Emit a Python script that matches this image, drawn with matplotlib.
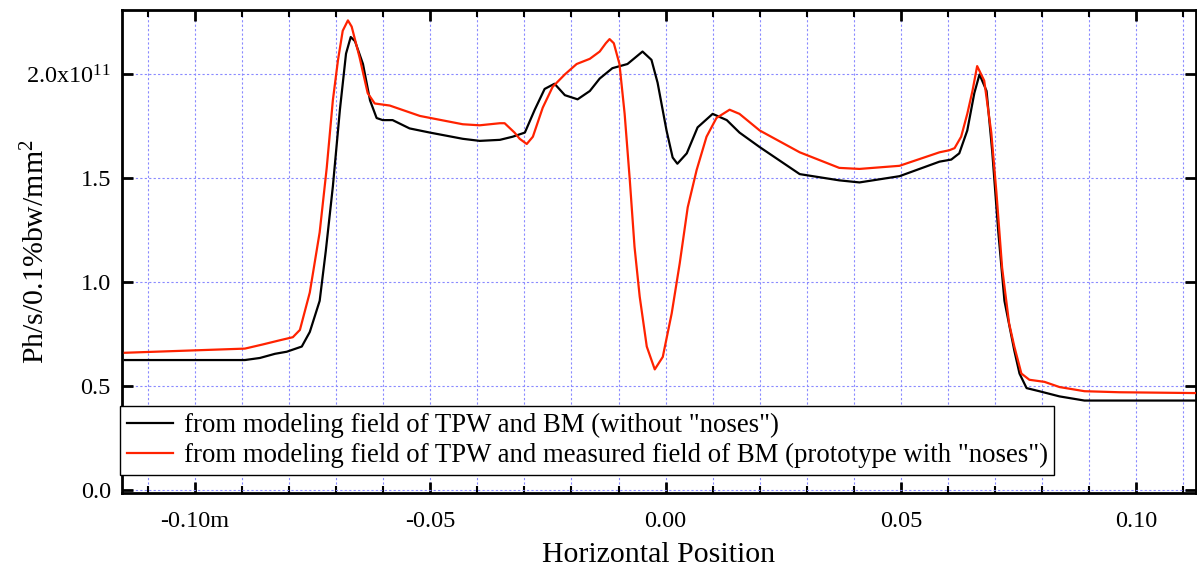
import matplotlib
matplotlib.use("Agg")
import matplotlib.pyplot as plt
from matplotlib.ticker import FixedLocator, FixedFormatter, MultipleLocator

plt.rcParams['font.family'] = ['Liberation Serif', 'DejaVu Serif']
plt.rcParams['mathtext.fontset'] = 'custom'
plt.rcParams['mathtext.rm'] = 'Liberation Serif'
plt.rcParams['mathtext.it'] = 'Liberation Serif:italic'

# Horizontal position (m) and flux (units of 1e11 Ph/s/0.1%bw/mm^2)
x_black = [-0.1149, -0.0894, -0.0862, -0.0830, -0.0805, -0.0773, -0.0756, -0.0735, -0.0722, -0.0707,
           -0.0692, -0.0679, -0.0669, -0.0660, -0.0643, -0.0628, -0.0614, -0.0601, -0.0580, -0.0544,
           -0.0501, -0.0431, -0.0395, -0.0352, -0.0325, -0.0299, -0.0278, -0.0257, -0.0236, -0.0214,
           -0.0187, -0.0161, -0.0140, -0.0113, -0.0081, -0.0049, -0.0030, -0.0017, 0.0002, 0.0015,
           0.0025, 0.0045, 0.0068, 0.0100, 0.0130, 0.0157, 0.0200, 0.0285, 0.0369, 0.0412,
           0.0497, 0.0582, 0.0607, 0.0624, 0.0641, 0.0656, 0.0667, 0.0682, 0.0694, 0.0707,
           0.0720, 0.0741, 0.0752, 0.0767, 0.0794, 0.0837, 0.0890, 0.1127]
y_black = [0.625, 0.625, 0.635, 0.655, 0.665, 0.69, 0.76, 0.91, 1.15, 1.46,
           1.83, 2.10, 2.18, 2.16, 2.05, 1.875, 1.79, 1.78, 1.78, 1.74,
           1.72, 1.69, 1.68, 1.685, 1.70, 1.72, 1.83, 1.93, 1.955, 1.90,
           1.88, 1.92, 1.98, 2.03, 2.05, 2.11, 2.07, 1.96, 1.73, 1.60,
           1.57, 1.62, 1.745, 1.81, 1.78, 1.72, 1.65, 1.52, 1.49, 1.48,
           1.51, 1.58, 1.59, 1.62, 1.73, 1.91, 2.00, 1.92, 1.63, 1.24,
           0.91, 0.67, 0.56, 0.49, 0.475, 0.45, 0.43, 0.43]

x_red = [-0.1149, -0.0894, -0.0856, -0.0820, -0.0792, -0.0777, -0.0756, -0.0735, -0.0720, -0.0707,
         -0.0696, -0.0686, -0.0675, -0.0667, -0.0650, -0.0633, -0.0618, -0.0586, -0.0522, -0.0431,
         -0.0395, -0.0352, -0.0342, -0.0321, -0.0310, -0.0295, -0.0282, -0.0261, -0.0240, -0.0214,
         -0.0189, -0.0161, -0.0140, -0.0127, -0.0119, -0.0110, -0.0098, -0.0087, -0.0076, -0.0066,
         -0.0055, -0.0040, -0.0023, -0.0006, 0.0013, 0.0030, 0.0047, 0.0066, 0.0087, 0.0108,
         0.0136, 0.0157, 0.0200, 0.0285, 0.0369, 0.0412, 0.0497, 0.0582, 0.0603, 0.0614,
         0.0628, 0.0641, 0.0652, 0.0662, 0.0677, 0.0692, 0.0703, 0.0715, 0.0730, 0.0741,
         0.0756, 0.0773, 0.0805, 0.0837, 0.0890, 0.0964, 0.1127]
y_red = [0.66, 0.68, 0.70, 0.72, 0.735, 0.77, 0.95, 1.24, 1.55, 1.875,
         2.07, 2.21, 2.26, 2.23, 2.08, 1.91, 1.86, 1.85, 1.80, 1.76,
         1.755, 1.765, 1.765, 1.72, 1.69, 1.665, 1.70, 1.84, 1.94, 2.00,
         2.05, 2.075, 2.11, 2.15, 2.17, 2.15, 2.05, 1.81, 1.49, 1.17,
         0.93, 0.69, 0.58, 0.64, 0.85, 1.09, 1.36, 1.54, 1.70, 1.79,
         1.83, 1.81, 1.73, 1.625, 1.55, 1.545, 1.56, 1.625, 1.635, 1.645,
         1.70, 1.81, 1.92, 2.04, 1.97, 1.72, 1.43, 1.07, 0.80, 0.69,
         0.56, 0.53, 0.52, 0.495, 0.475, 0.47, 0.466]

label_black = 'from modeling field of TPW and BM (without "noses")'
label_red = 'from modeling field of TPW and measured field of BM (prototype with "noses")'

x_ticks = [-0.10, -0.05, 0.00, 0.05, 0.10]
x_tick_labels = ['-0.10m', '-0.05', '0.00', '0.05', '0.10']
y_ticks = [0.0, 0.5, 1.0, 1.5, 2.0]
y_tick_labels = ['0.0', '0.5', '1.0', '1.5', '2.0x10$^{11}$']

fig = plt.figure(figsize=(11.97, 5.67), dpi=100)
ax = fig.add_axes([122/1197, 1 - 493/567, (1196 - 122)/1197, (493 - 10)/567])

ax.plot(x_black, y_black, color='black', lw=1.6, label=label_black, zorder=3,
        solid_joinstyle='round')
ax.plot(x_red, y_red, color='#ff2200', lw=1.6, label=label_red, zorder=3,
        solid_joinstyle='round')

ax.set_xlim(-0.1155, 0.1127)
ax.set_ylim(-0.015, 2.31)

ax.xaxis.set_major_locator(FixedLocator(x_ticks))
ax.xaxis.set_major_formatter(FixedFormatter(x_tick_labels))
ax.xaxis.set_minor_locator(MultipleLocator(0.01))
ax.yaxis.set_major_locator(FixedLocator(y_ticks))
ax.yaxis.set_major_formatter(FixedFormatter(y_tick_labels))

grid_kw = dict(color='#8a8aff', linestyle=(0, (2, 2)), lw=0.8)
ax.grid(True, which='minor', axis='x', **grid_kw)
ax.grid(True, which='major', axis='x', **grid_kw)
ax.grid(True, which='major', axis='y', **grid_kw)
ax.set_axisbelow(True)

ax.tick_params(which='major', direction='in', length=8, width=2, top=True, right=True,
               labelsize=17.5, pad=8)
ax.tick_params(which='minor', direction='in', length=5, width=1.5, top=True, right=True)
ax.tick_params(axis='x', which='major', pad=13)

for s in ax.spines.values():
    s.set_linewidth(2)

ax.set_xlabel('Horizontal Position', fontsize=21.5, labelpad=7)
ax.set_ylabel('Ph/s/0.1%bw/mm$^2$', fontsize=21.5)
ax.yaxis.set_label_coords(-0.067, 0.5)

leg = ax.legend(loc='lower left', bbox_to_anchor=(-0.002, 0.037), fontsize=19.3,
                frameon=True, fancybox=False, edgecolor='black', framealpha=1,
                borderaxespad=0, handlelength=1.75, handletextpad=0.38, borderpad=0.25,
                labelspacing=0.2)
leg.get_frame().set_linewidth(1.0)
leg.set_zorder(5)

fig.savefig('out.png', dpi=100)
